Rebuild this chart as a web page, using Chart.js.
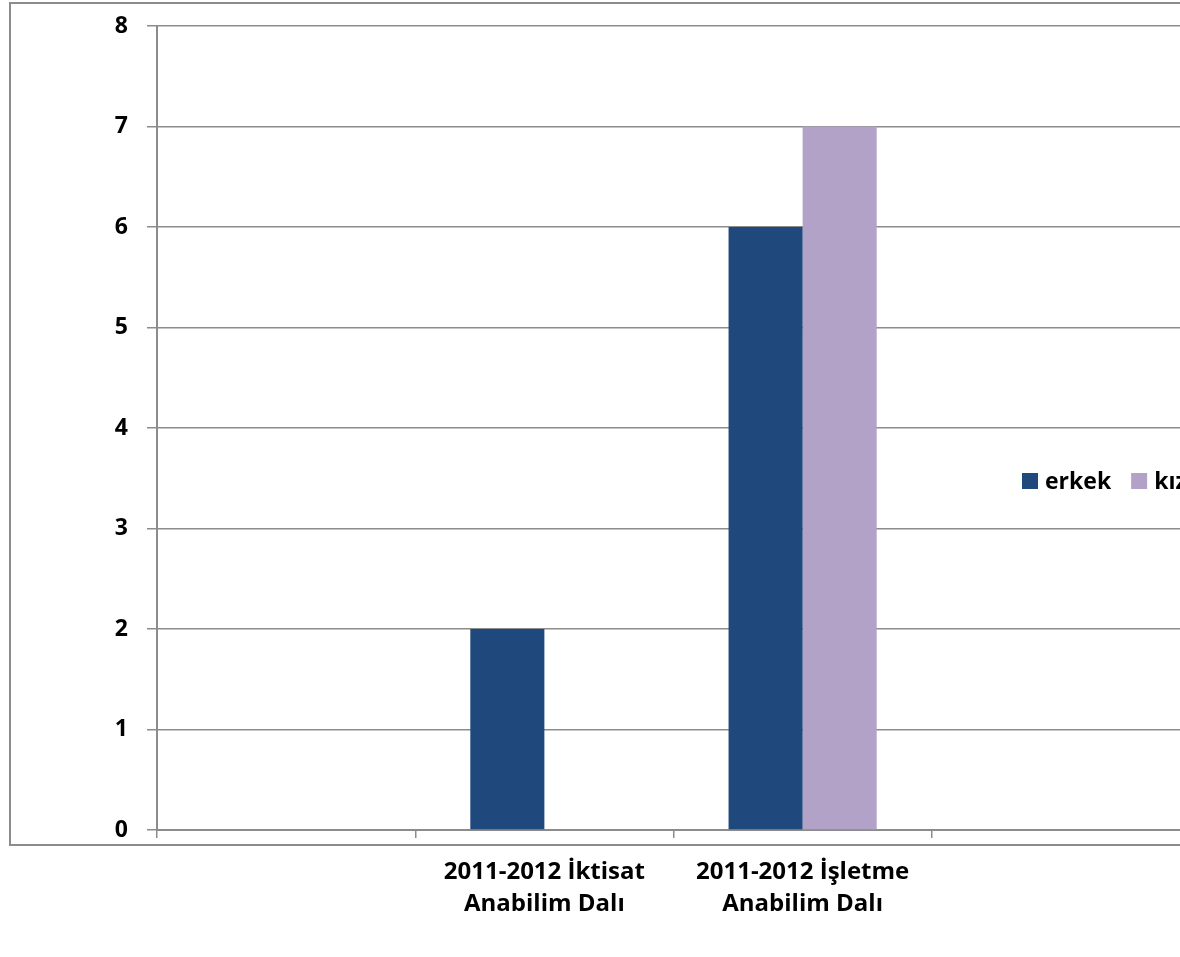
<!DOCTYPE html>
<html>
<head>
<meta charset="utf-8">
<script src="https://cdn.jsdelivr.net/npm/chart.js@4/dist/chart.umd.min.js"></script>
<style>
html,body{margin:0;padding:0;background:#fff;overflow:hidden;}
#wrap{position:absolute;left:0;top:0;width:1400px;height:957px;}
</style>
</head>
<body>
<div id="wrap"><canvas id="c" width="1400" height="957"></canvas></div>
<script>
const categories = ["", ["2011-2012 İktisat", "Anabilim Dalı"], ["2011-2012 İşletme", "Anabilim Dalı"], ""];
const erkek = [null, 2, 6, null];
const kiz = [null, 0, 7, null];
const seriesNames = ["erkek", "kız"];
const yTicks = [0, 1, 2, 3, 4, 5, 6, 7, 8];

const FONT = "'Open Sans', 'Noto Sans', sans-serif";
const GRID = "#8c8c8c";

const frame = {
  id: "frame",
  beforeDraw(chart) {
    const ctx = chart.ctx;
    ctx.save();
    ctx.fillStyle = "#fff";
    ctx.fillRect(0, 0, chart.width, chart.height);
    ctx.strokeStyle = GRID;
    ctx.lineWidth = 2;
    ctx.strokeRect(10, 3, 1380, 842);
    ctx.restore();
  },
  afterDraw(chart) {
    const ctx = chart.ctx;
    ctx.save();
    ctx.font = "bold 23px " + FONT;
    ctx.textBaseline = "middle";
    let x = 1022;
    const y = 481;
    chart.data.datasets.forEach(ds => {
      ctx.fillStyle = ds.backgroundColor;
      ctx.fillRect(x, y - 8, 16, 16);
      ctx.fillStyle = "#000";
      ctx.fillText(ds.label, x + 23, y + 1);
      x += 23 + ctx.measureText(ds.label).width + 20;
    });
    ctx.restore();
  }
};

new Chart(document.getElementById("c"), {
  type: "bar",
  data: {
    labels: categories,
    datasets: [
      { label: seriesNames[0], data: erkek, backgroundColor: "#1F497D", borderWidth: 0 },
      { label: seriesNames[1], data: kiz, backgroundColor: "#B3A2C7", borderWidth: 0 }
    ]
  },
  options: {
    responsive: false,
    animation: false,
    devicePixelRatio: 1,
    layout: { padding: { left: 0, right: 210, top: 26, bottom: 0 } },
    datasets: { bar: { categoryPercentage: 148 / 258, barPercentage: 1 } },
    plugins: { legend: { display: false }, tooltip: { enabled: false } },
    scales: {
      x: {
        afterFit(s) { s.height = 127; s.paddingLeft = 0; s.paddingRight = 0; },
        grid: { offset: true, drawOnChartArea: false, tickLength: 8, color: GRID, lineWidth: 1.5 },
        border: { color: GRID, width: 2 },
        ticks: { color: "#000", font: { family: FONT, size: 24, weight: "bold", lineHeight: 1.35 }, padding: 18, maxRotation: 0, autoSkip: false }
      },
      y: {
        min: 0, max: 8,
        afterFit(s) { s.width = 157; s.paddingTop = 0; s.paddingBottom = 0; },
        afterBuildTicks(s) { s.ticks = yTicks.map(v => ({ value: v })); },
        grid: { color: GRID, lineWidth: 1.5, tickLength: 10 },
        border: { color: GRID, width: 2 },
        ticks: { color: "#000", font: { family: FONT, size: 23, weight: "bold" }, padding: 19 }
      }
    }
  },
  plugins: [frame]
});
</script>
</body>
</html>
